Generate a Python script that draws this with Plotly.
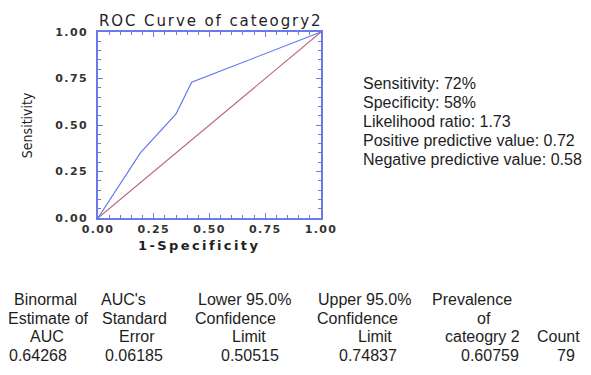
import plotly.graph_objects as go

# ---- data ----
roc_fpr = [0.0, 0.19, 0.35, 0.42, 1.0]
roc_tpr = [0.0, 0.35, 0.56, 0.73, 1.0]
diag_x = [0.0, 1.0]
diag_y = [0.0, 1.0]
tick_vals = [0.0, 0.25, 0.5, 0.75, 1.0]
tick_labels = ["0.00", "0.25", "0.50", "0.75", "1.00"]

title_text = "ROC Curve of cateogry2"
x_title = "1-Specificity"
y_title = "Sensitivity"

stats_lines = [
    "Sensitivity: 72%",
    "Specificity: 58%",
    "Likelihood ratio: 1.73",
    "Positive predictive value: 0.72",
    "Negative predictive value: 0.58",
]

table_headers = [
    ["Binormal", "Estimate of", "AUC"],
    ["AUC's", "Standard", "Error"],
    ["Lower 95.0%", "Confidence", "Limit"],
    ["Upper 95.0%", "Confidence", "Limit"],
    ["Prevalence", "of", "cateogry 2"],
    ["", "", "Count"],
]
table_values = ["0.64268", "0.06185", "0.50515", "0.74837", "0.60759", "79"]

# ---- layout (reference pixel coords; page body adds an 8px offset) ----
OFF = 8
W, H = 591 - OFF, 375 - OFF
X0, X1, Y0, Y1 = 98, 321.5, 32, 218   # plot area in reference pixels
L = X0 - OFF
T = Y0 - OFF
R = W - (X1 - OFF)
B = H - (Y1 - OFF)

def px(x):
    return (x - X0) / (X1 - X0)

def py(y):
    return (Y1 - y) / (Y1 - Y0)

def spaced(t, s):
    return '<span style="letter-spacing:%spx">%s</span>' % (s, t)

BLUE = "#5b72f2"
RED = "#b4607a"
FRAME = "#6a7be8"
TXT = "#1e1e1e"
FONT = "Liberation Sans, Arial, sans-serif"
WIDE = "DejaVu Sans, Verdana, sans-serif"

fig = go.Figure()
fig.add_trace(go.Scatter(x=diag_x, y=diag_y, mode="lines",
                         line=dict(color=RED, width=1.1), hoverinfo="skip"))
fig.add_trace(go.Scatter(x=roc_fpr, y=roc_tpr, mode="lines",
                         line=dict(color=BLUE, width=1.1), hoverinfo="skip"))

axis_common = dict(
    range=[0, 1], tickvals=tick_vals, ticktext=[spaced(t, 1.4) for t in tick_labels],
    ticks="inside", ticklen=5, tickcolor=FRAME, tickwidth=1,
    minor=dict(dtick=0.05, ticks="inside", ticklen=3, tickcolor=FRAME, tickwidth=1),
    showline=True, linecolor=FRAME, linewidth=1.5, mirror="allticks",
    showgrid=False, zeroline=False,
    tickfont=dict(family=WIDE, size=11, color="#333333", weight="bold"),
)

fig.update_layout(
    width=W, height=H,
    margin=dict(l=L, r=R, t=T, b=B, pad=0),
    paper_bgcolor="white", plot_bgcolor="white",
    showlegend=False,
    xaxis=dict(**axis_common, ticklabelstandoff=0),
    yaxis=dict(**axis_common, ticklabelstandoff=6),
)

ann = []
ann.append(dict(text=spaced(title_text, 1.9), x=px(211), y=py(21), xref="paper", yref="paper",
                showarrow=False, xanchor="center", yanchor="middle",
                font=dict(family=WIDE, size=15, color=TXT)))
ann.append(dict(text=spaced(x_title, 2.4), x=px(199), y=py(245), xref="paper", yref="paper",
                showarrow=False, xanchor="center", yanchor="middle",
                font=dict(family=WIDE, size=13, color=TXT, weight="bold")))
ann.append(dict(text=y_title, x=px(27), y=py(125), xref="paper", yref="paper",
                showarrow=False, xanchor="center", yanchor="middle", textangle=-90,
                font=dict(family="Liberation Sans Narrow, DejaVu Sans Condensed, " + FONT,
                          size=14, color=TXT)))

stats_y = [83, 102, 121, 140.5, 159]
for line, yy in zip(stats_lines, stats_y):
    ann.append(dict(text=line, x=px(362), y=py(yy), xref="paper", yref="paper",
                    showarrow=False, xanchor="left", yanchor="middle",
                    font=dict(family=FONT, size=16, color=TXT)))

row_y = [299.5, 318, 336.5, 355]
hdr_x_rows = [
    [45, 124, 245, 365.5, 473, 560],
    [48.5, 135, 236, 358, 484.5, 560],
    [46.5, 137.5, 249.5, 375.5, 483.5, 560],
]
val_x = [37.5, 134, 250, 369, 491, 567]
for c, hdr in enumerate(table_headers):
    for r, t in enumerate(hdr):
        if t:
            ann.append(dict(text=t, x=px(hdr_x_rows[r][c]), y=py(row_y[r]), xref="paper", yref="paper",
                            showarrow=False, xanchor="center", yanchor="middle",
                            font=dict(family=FONT, size=16, color=TXT)))
    ann.append(dict(text=table_values[c], x=px(val_x[c]), y=py(row_y[3]), xref="paper", yref="paper",
                    showarrow=False, xanchor="center", yanchor="middle",
                    font=dict(family=FONT, size=16, color=TXT)))

fig.update_layout(annotations=ann)
fig.write_html("out.html")
